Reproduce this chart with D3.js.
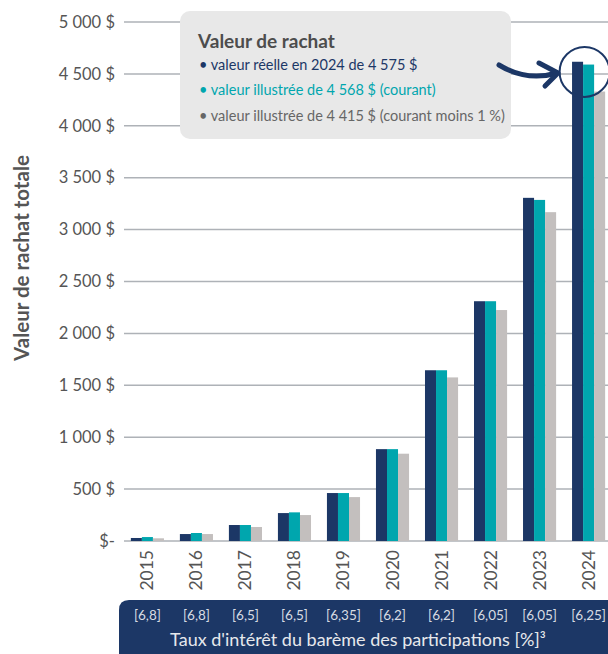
<!DOCTYPE html>
<html>
<head>
<meta charset="utf-8">
<script src="https://cdn.jsdelivr.net/npm/d3@7"></script>
<style>
  html, body { margin: 0; padding: 0; background: #fff; }
  svg { display: block; font-family: Lato, "Open Sans", sans-serif; }
</style>
</head>
<body>
<svg id="chart" width="608" height="654"></svg>
<script>
const years = ["2015","2016","2017","2018","2019","2020","2021","2022","2023","2024"];
const rates = ["[6,8]","[6,8]","[6,5]","[6,5]","[6,35]","[6,2]","[6,2]","[6,05]","[6,05]","[6,25]"];
const seriesNames = ["réelle", "courant", "courant moins 1 %"];
const reelle  = [29, 67, 154, 269, 462, 885, 1645, 2310, 3306, 4617];
const courant = [38, 77, 154, 276, 462, 885, 1645, 2310, 3286, 4590];
const moins1  = [26, 67, 135, 250, 423, 841, 1576, 2225, 3168, 4330];
const yTicks = [0, 500, 1000, 1500, 2000, 2500, 3000, 3500, 4000, 4500, 5000];
const yTickLabels = ["$-", "500 $", "1 000 $", "1 500 $", "2 000 $", "2 500 $", "3 000 $", "3 500 $", "4 000 $", "4 500 $", "5 000 $"];
const legendTitle = "Valeur de rachat";
const legendLines = ["• valeur réelle en 2024 de 4 575 $", "• valeur illustrée de 4 568 $ (courant)", "• valeur illustrée de 4 415 $ (courant moins 1 %)"];
const yTitle = "Valeur de rachat totale";
const xTitle = "Taux d'intérêt du barème des participations [%]³";

const colors = ["#1c3766", "#00a6ae", "#c3bfbe"];
const textGray = "#555555";

const svg = d3.select("#chart");

const y = d3.scaleLinear().domain([0, 5000]).range([541, 22]);
const x = d3.scaleBand().domain(years).range([124, 612]).paddingInner(0.325).paddingOuter(0.14);
const xs = d3.scaleBand().domain(seriesNames).range([0, x.bandwidth()]);

const data = years.map((yr, i) => ({ year: yr, vals: [reelle[i], courant[i], moins1[i]] }));

// Gridlines
svg.append("g").selectAll("line").data(yTicks).join("line")
  .attr("x1", 124).attr("x2", 608)
  .attr("y1", d => y(d)).attr("y2", d => y(d))
  .attr("stroke", "#aeb2b7").attr("stroke-width", 1.5);

// Y axis labels
const yAxis = d3.axisLeft(y).tickValues(yTicks).tickSize(0).tickPadding(9)
  .tickFormat((d, i) => yTickLabels[i]);
const gy = svg.append("g").attr("transform", "translate(124,0)").call(yAxis);
gy.select(".domain").remove();
gy.selectAll("text").attr("fill", textGray).style("font-size", "16.5px").style("font-family", "Lato");

// Bars
const groups = svg.append("g").selectAll("g").data(data).join("g")
  .attr("transform", d => `translate(${x(d.year)},0)`);
groups.selectAll("rect").data(d => d.vals.map((v, j) => ({ v, j }))).join("rect")
  .attr("x", d => xs(seriesNames[d.j]))
  .attr("width", xs.bandwidth())
  .attr("y", d => y(d.v))
  .attr("height", d => y(0) - y(d.v))
  .attr("fill", d => colors[d.j]);

// Year labels (rotated)
svg.append("g").selectAll("text").data(years).join("text")
  .attr("transform", d => `translate(${x(d) + x.bandwidth() / 2 + 6},550) rotate(-90)`)
  .attr("text-anchor", "end")
  .attr("fill", textGray)
  .style("font-size", "17.5px")
  .text(d => d);

// Bottom band
svg.append("path")
  .attr("d", "M119,654 L119,610 Q119,600 129,600 L608,600 L608,654 Z")
  .attr("fill", "#1c3766");
svg.append("g").selectAll("text").data(years).join("text")
  .attr("x", d => x(d) + x.bandwidth() / 2)
  .attr("y", 620)
  .attr("text-anchor", "middle")
  .attr("fill", "#d8dce3")
  .style("font-size", "13.5px")
  .text((d, i) => rates[i]);
svg.append("text")
  .attr("x", 358).attr("y", 646)
  .attr("text-anchor", "middle")
  .attr("fill", "#e6e8ec")
  .style("font-size", "18px")
  .text(xTitle);

// Y title
svg.append("text")
  .attr("transform", "translate(29,258) rotate(-90)")
  .attr("text-anchor", "middle")
  .attr("fill", textGray)
  .style("font-size", "20.5px")
  .style("font-weight", "bold")
  .text(yTitle);

// Annotation box
svg.append("rect")
  .attr("x", 180).attr("y", 11).attr("width", 331).attr("height", 128)
  .attr("rx", 10).attr("ry", 10)
  .attr("fill", "#e8e8e8");
svg.append("text")
  .attr("x", 198).attr("y", 48)
  .attr("fill", "#4d4d4d")
  .style("font-size", "19px").style("font-weight", "bold")
  .text(legendTitle);
const legendColors = ["#1c3766", "#00a6ae", "#666666"];
svg.append("g").selectAll("text").data(legendLines).join("text")
  .attr("x", 199)
  .attr("y", (d, i) => 70 + i * 25.3)
  .attr("fill", (d, i) => legendColors[i])
  .style("font-size", "14.5px")
  .text(d => d);

// Circle highlight
svg.append("circle")
  .attr("cx", x("2024") + x.bandwidth() / 2 - 4)
  .attr("cy", y(4500) - 2)
  .attr("r", 25)
  .attr("fill", "none")
  .attr("stroke", "#1c3766")
  .attr("stroke-width", 2);

// Arrow
svg.append("path")
  .attr("d", "M499,65 Q527,82 557,73")
  .attr("fill", "none").attr("stroke", "#1c3766")
  .attr("stroke-width", 5).attr("stroke-linecap", "round");
svg.append("path")
  .attr("d", "M539,63 L558,73 L545,86")
  .attr("fill", "none").attr("stroke", "#1c3766")
  .attr("stroke-width", 5).attr("stroke-linecap", "round").attr("stroke-linejoin", "round");
</script>
</body>
</html>
